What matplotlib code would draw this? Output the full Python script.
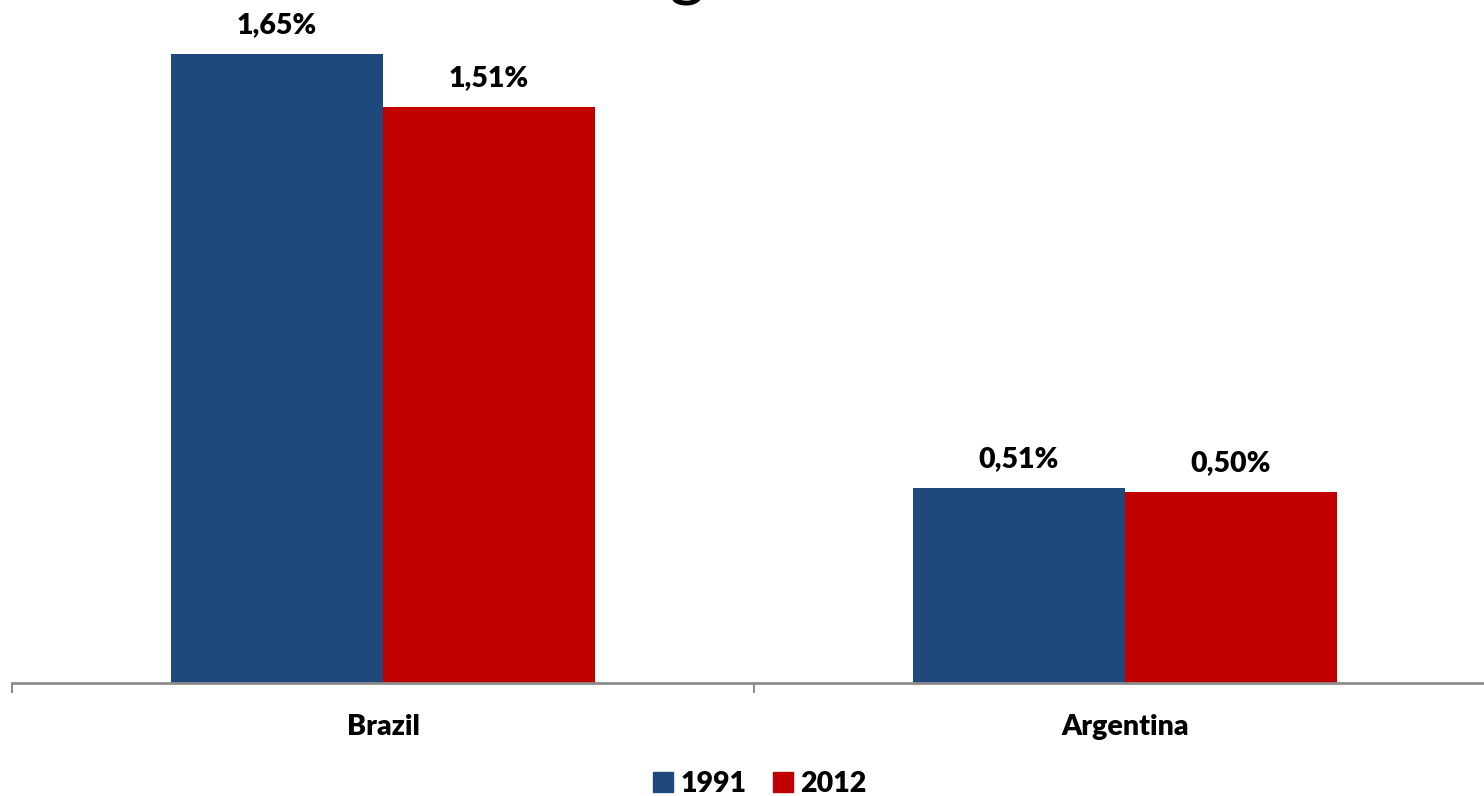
import matplotlib
matplotlib.use("Agg")
import matplotlib.pyplot as plt
from matplotlib.patches import Patch

countries = ["Brazil", "Argentina"]
years = ["1991", "2012"]
values_1991 = [1.65, 0.51]
values_2012 = [1.51, 0.50]
labels_1991 = ["1,65%", "0,51%"]
labels_2012 = ["1,51%", "0,50%"]

BLUE = "#1F497D"
RED = "#C00000"
AXIS_GRAY = "#8C8C8C"
FONT = ["Lato", "DejaVu Sans"]
SIZE = 20.5
WEIGHT = "heavy"

W, H, DPI = 1484, 796, 100
fig = plt.figure(figsize=(W / DPI, H / DPI), dpi=DPI)
# the plot area runs a little past the right edge of the canvas
ax = fig.add_axes([12 / W, (H - 683) / H, 1484 / W, 683 / H])

width = 0.2857
x = list(range(len(countries)))
b1 = ax.bar([i - width / 2 for i in x], values_1991, width, color=BLUE, zorder=2)
b2 = ax.bar([i + width / 2 for i in x], values_2012, width, color=RED, zorder=2)

for bars, labels in ((b1, labels_1991), (b2, labels_2012)):
    for rect, lab in zip(bars, labels):
        ax.annotate(lab, (rect.get_x() + rect.get_width() / 2, rect.get_height()),
                    xytext=(0, 15), textcoords="offset points",
                    ha="center", va="baseline", fontsize=SIZE, fontweight=WEIGHT,
                    family=FONT, color="black")

ax.set_xlim(-0.5, 1.5)
ax.set_ylim(0, 683 / 381.5)

for side in ("left", "right", "top"):
    ax.spines[side].set_visible(False)
ax.spines["bottom"].set_color(AXIS_GRAY)
ax.spines["bottom"].set_linewidth(2)
ax.set_yticks([])

# category boundaries carry the tick marks, names sit at the centres
ax.set_xticks([-0.5, 0.5, 1.5])
ax.set_xticklabels([])
ax.tick_params(axis="x", which="major", direction="out", length=7, width=1.5, color=AXIS_GRAY)
ax.set_xticks(x, minor=True)
ax.set_xticklabels(countries, minor=True, fontsize=SIZE, fontweight=WEIGHT, family=FONT)
ax.tick_params(axis="x", which="minor", length=0, pad=22)

handles = [Patch(color=BLUE, label=years[0]), Patch(color=RED, label=years[1])]
leg = fig.legend(handles=handles, loc="center", bbox_to_anchor=(760 / W, 1 - 784 / H),
                 ncol=2, frameon=False, handlelength=0.7, handleheight=0.7,
                 handletextpad=0.25, columnspacing=0.95, borderpad=0.2,
                 prop={"family": FONT, "weight": WEIGHT, "size": SIZE})

# descender of the heading, which runs above the top edge
fig.text(687 / W, 1 + 6 / H, "g", ha="center", va="baseline", fontsize=50, family=FONT)

fig.savefig("out.png", dpi=DPI)
